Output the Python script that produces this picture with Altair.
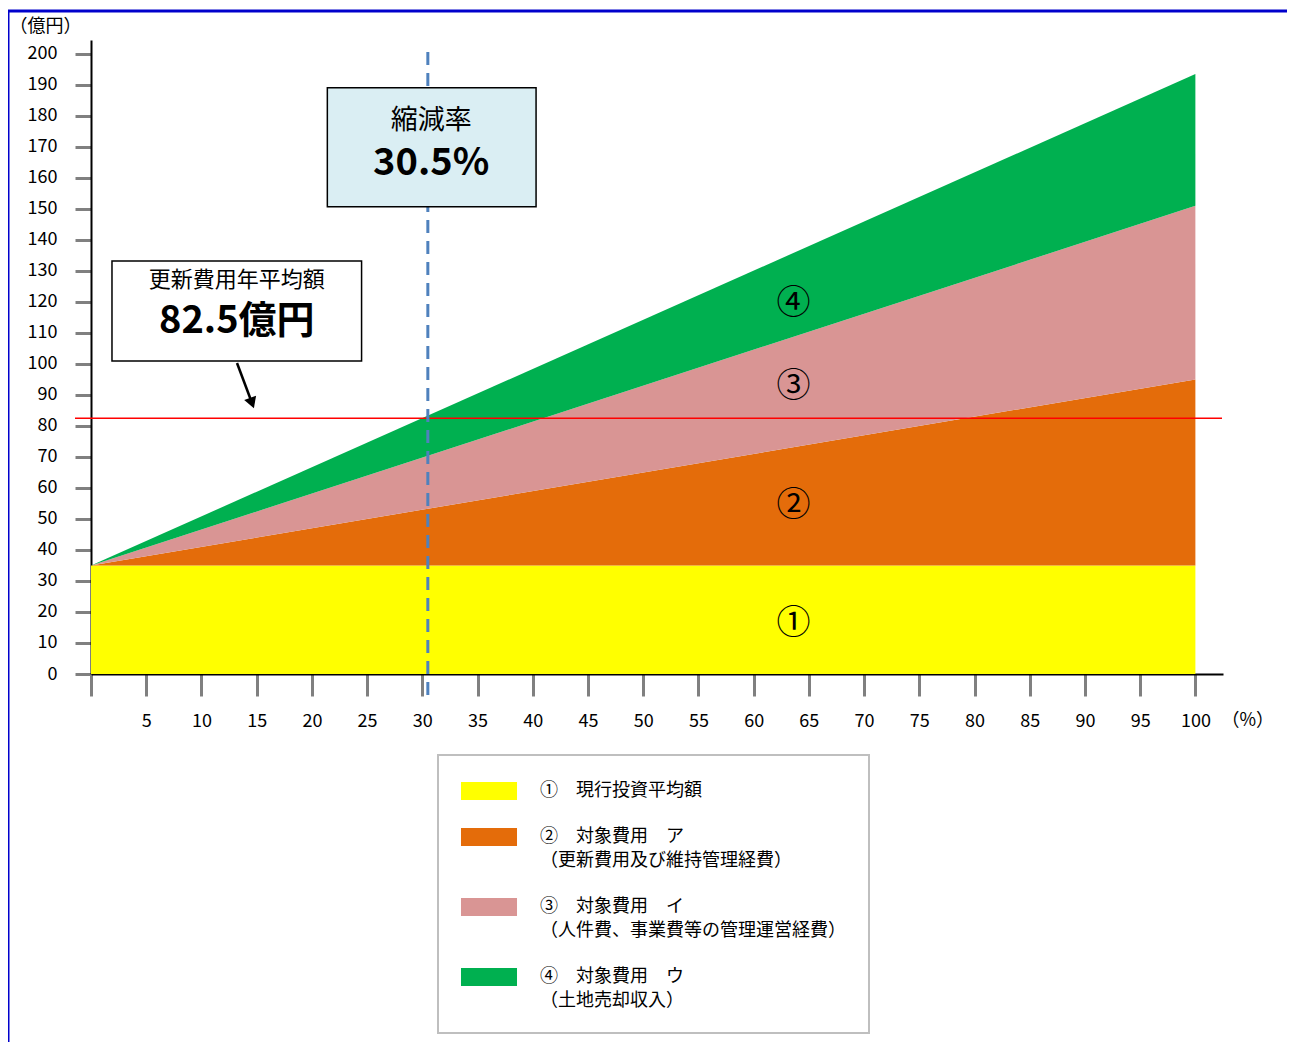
import altair as alt
import pandas as pd

# ---------------- data ----------------
x_pct = [0, 100]
series_names = [
    "①　現行投資平均額",
    "②　対象費用　ア|（更新費用及び維持管理経費）",
    "③　対象費用　イ|（人件費、事業費等の管理運営経費）",
    "④　対象費用　ウ|（土地売却収入）",
]
series_values = [
    [35, 35],     # ① 現行投資平均額
    [0, 60],      # ② 対象費用 ア (stacked increment)
    [0, 56],      # ③ 対象費用 イ
    [0, 42.5],    # ④ 対象費用 ウ
]
series_colors = ["#FFFF00", "#E46C0A", "#D99594", "#00B050"]

circle_labels = ["①", "②", "③", "④"]
circle_x = [63.6, 63.6, 63.6, 63.6]
circle_y = [16.1, 54.2, 92.6, 119.4]

x_ticks = list(range(0, 101, 5))
y_ticks = list(range(0, 201, 10))

avg_cost = 82.5          # 更新費用年平均額 (億円)
reduction_pct = 30.5     # 縮減率 (%)

# annotation geometry in data units
box1 = {"x": 1.9, "x2": 24.5, "y": 101.0, "y2": 133.2}
box1_text = [("更新費用年平均額", 13.2, 127.2), ("82.5億円", 13.2, 113.6)]
box2 = {"x": 21.4, "x2": 40.3, "y": 150.7, "y2": 189.1}
box2_text = [("縮減率", 30.8, 178.4), ("30.5%", 30.8, 164.4)]
arrow_start = (13.22, 100.3)
arrow_head = (14.58, 87.4)
dash_span = (200.6, -6.8)

FONT = "Noto Sans CJK JP"

# ---------------- table ----------------
rows = []
for order, (name, vals) in enumerate(zip(series_names, series_values)):
    for x, v in zip(x_pct, vals):
        rows.append({"x": x, "value": v, "series": name, "order": order})
df = pd.DataFrame(rows)

xscale = alt.Scale(domain=[0, 102.5], nice=False, zero=False)
yscale = alt.Scale(domain=[0, 204.5], nice=False)

xaxis = alt.Axis(
    values=x_ticks, title="（%）", titleAngle=0, titleX=1130, titleY=46,
    titleAlign="left", titleBaseline="middle", titleFontWeight="normal",
    titleFontSize=18, titleFont=FONT,
    labelExpr="datum.value == 0 ? '' : datum.label",
    labelFlush=False, labelOverlap=False, tickSize=22, labelPadding=16,
)
yaxis = alt.Axis(
    values=y_ticks, title="（億円）", titleAngle=0, titleX=-82, titleY=-14,
    titleAlign="left", titleBaseline="middle", titleFontWeight="normal",
    titleFontSize=18, titleFont=FONT,
    labelFlush=False, labelOverlap=False, tickSize=16, labelPadding=18,
)


def X(f):
    return alt.X(f, scale=xscale, axis=xaxis)


def Y(f):
    return alt.Y(f, scale=yscale, axis=yaxis)


area = alt.Chart(df).mark_area(opacity=1).encode(
    x=X("x:Q"),
    y=alt.Y("value:Q", stack="zero", scale=yscale, axis=yaxis),
    color=alt.Color("series:N", scale=alt.Scale(domain=series_names, range=series_colors),
                    legend=alt.Legend(
                        title=None, orient="none", legendX=347, legendY=715,
                        labelExpr="split(datum.label, '|')",
                        symbolType="M-1.556,-0.778H1.556V0.222H-1.556Z", symbolSize=1296,
                        symbolStrokeWidth=0, symbolOpacity=1, symbolOffset=10,
                        labelOffset=33, padding=23, rowPadding=24,
                        labelBaseline="alphabetic",
                        labelFontSize=18, labelFont=FONT, labelColor="#000000",
                        labelLimit=600, strokeColor="#BFBFBF", fillColor="#FFFFFF",
                    )),
    order=alt.Order("order:Q"),
)

red_line = alt.Chart(pd.DataFrame({"y": [avg_cost]})).mark_rule(
    color="#FF0000", strokeWidth=1.5
).encode(y=Y("y:Q"), x=alt.value(-16), x2=alt.value(1131))

dash_line = alt.Chart(pd.DataFrame({"x": [reduction_pct], "y": [dash_span[0]], "y2": [dash_span[1]]})).mark_rule(
    color="#4F81BD", strokeWidth=3, strokeDash=[13, 8]
).encode(x=X("x:Q"), y=Y("y:Q"), y2="y2:Q")


def box_layer(b, fill):
    return alt.Chart(pd.DataFrame([b])).mark_rect(
        fill=fill, stroke="#000000", strokeWidth=1.5
    ).encode(x=X("x:Q"), x2="x2:Q", y=Y("y:Q"), y2="y2:Q")


def text_layer(t, size, weight):
    s, x, y = t
    return alt.Chart(pd.DataFrame({"t": [s], "x": [x], "y": [y]})).mark_text(
        font=FONT, fontSize=size, fontWeight=weight, color="#000000",
        align="center", baseline="middle"
    ).encode(x=X("x:Q"), y=Y("y:Q"), text="t:N")


arrow_line = alt.Chart(pd.DataFrame({"x": [arrow_start[0]], "y": [arrow_start[1]],
                                     "x2": [arrow_head[0]], "y2": [arrow_head[1]]})).mark_rule(
    color="#000000", strokeWidth=2.5
).encode(x=X("x:Q"), y=Y("y:Q"), x2="x2:Q", y2="y2:Q")

arrow_tip = alt.Chart(pd.DataFrame({"x": [arrow_head[0]], "y": [arrow_head[1]]})).mark_point(
    shape="triangle-down", size=160, filled=True, fill="#000000", stroke="#000000",
    strokeWidth=0, opacity=1, angle=340
).encode(x=X("x:Q"), y=Y("y:Q"))

circles = alt.Chart(pd.DataFrame({"t": circle_labels, "x": circle_x, "y": circle_y})).mark_text(
    font=FONT, fontSize=34, color="#000000", align="center", baseline="middle"
).encode(x=X("x:Q"), y=Y("y:Q"), text="t:N")

frame_top = alt.Chart(pd.DataFrame({"a": [0]})).mark_rule(color="#0000CC", strokeWidth=3).encode(
    x=alt.value(-83), x2=alt.value(1196), y=alt.value(-29))
frame_left = alt.Chart(pd.DataFrame({"a": [0]})).mark_rule(color="#0000CC", strokeWidth=3).encode(
    x=alt.value(-83), y=alt.value(-29), y2=alt.value(1002))

chart = alt.layer(
    area, circles, red_line, dash_line,
    box_layer(box1, "#FFFFFF"), text_layer(box1_text[0], 22, "normal"), text_layer(box1_text[1], 38, "bold"),
    box_layer(box2, "#DAEEF3"), text_layer(box2_text[0], 27, "normal"), text_layer(box2_text[1], 38, "bold"),
    arrow_line, arrow_tip, frame_top, frame_left,
).properties(
    width=1132, height=634,
    padding={"left": 83, "top": 32, "right": 64, "bottom": 368},
    autosize=alt.AutoSizeParams(type="none"),
)

chart = chart.configure(style={"guide-label": {"lineHeight": 24}}).configure_view(strokeWidth=0).configure_axis(
    grid=False, domainColor="#000000", domainWidth=2, tickColor="#808080", tickWidth=3,
    labelFont=FONT, labelFontSize=18, labelColor="#000000", labelOverlap=False,
).configure_legend(strokeWidth=2)

chart.save("out.html", embed_options={"renderer": "svg", "actions": False})
